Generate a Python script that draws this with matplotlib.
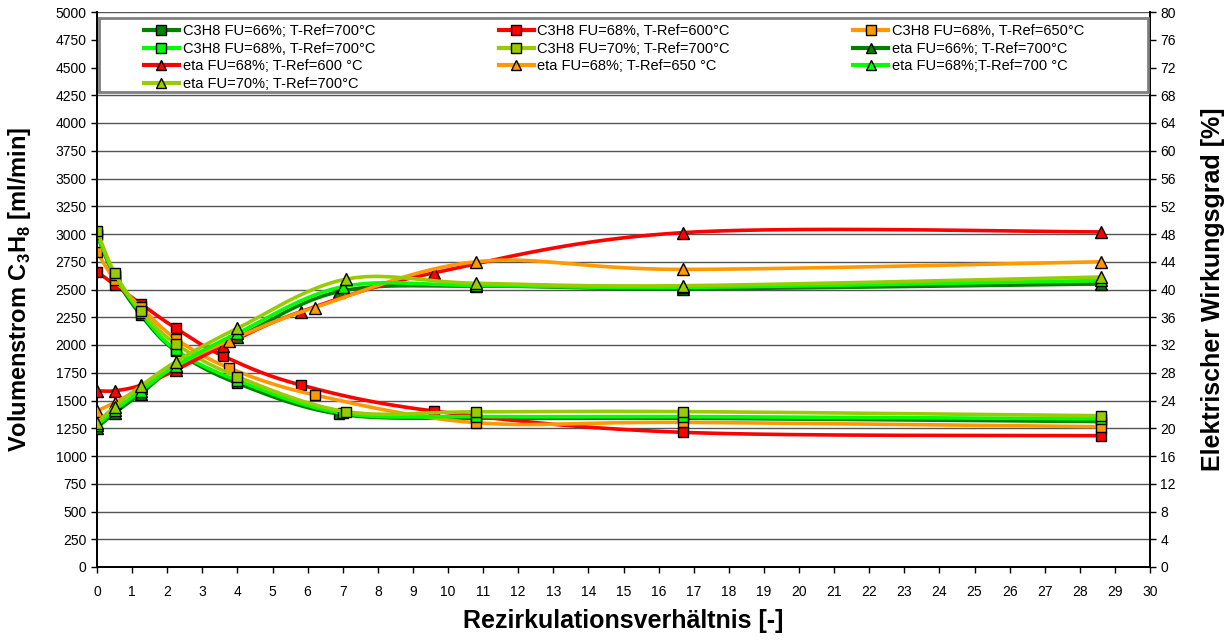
import numpy as np
import matplotlib
matplotlib.use('Agg')
import matplotlib.pyplot as plt
from matplotlib.lines import Line2D
from matplotlib.patches import Rectangle

plt.rcParams['font.family'] = ['Liberation Sans', 'DejaVu Sans']
plt.rcParams['mathtext.fontset'] = 'custom'
plt.rcParams['mathtext.rm'] = 'Liberation Sans'
plt.rcParams['mathtext.bf'] = 'Liberation Sans:bold'

# Rezirkulationsverhaeltnis per Messreihe
x_66_700 = [0, 0.5, 1.25, 2.25, 4.0, 6.9, 10.8, 16.7, 28.6]
x_68_600 = [0, 0.5, 1.25, 2.25, 3.6, 5.8, 9.6, 16.7, 28.6]
x_68_650 = [0, 0.5, 1.25, 2.25, 3.75, 6.2, 10.8, 16.7, 28.6]
x_68_700 = [0, 0.5, 1.25, 2.25, 4.0, 7.0, 10.8, 16.7, 28.6]
x_70_700 = [0, 0.5, 1.25, 2.25, 4.0, 7.1, 10.8, 16.7, 28.6]

# Volumenstrom C3H8 [ml/min]
c3h8_66_700 = [2990, 2620, 2270, 1945, 1655, 1378, 1340, 1340, 1310]
c3h8_68_600 = [2660, 2545, 2370, 2150, 1900, 1640, 1405, 1213, 1183]
c3h8_68_650 = [2840, 2590, 2340, 2055, 1795, 1550, 1300, 1303, 1264]
c3h8_68_700 = [3000, 2635, 2290, 1955, 1680, 1385, 1355, 1355, 1335]
c3h8_70_700 = [3030, 2650, 2310, 2010, 1715, 1400, 1398, 1400, 1363]

# elektrischer Wirkungsgrad [%]
eta_66_700 = [20.1, 22.2, 25.0, 28.9, 33.1, 39.7, 40.5, 40.1, 40.8]
eta_68_600 = [25.4, 25.4, 26.2, 28.4, 31.9, 36.8, 42.4, 48.2, 48.3]
eta_68_650 = [22.5, 23.7, 25.8, 29.0, 32.6, 37.4, 44.0, 42.9, 44.0]
eta_68_700 = [20.4, 22.6, 25.4, 29.0, 33.7, 40.4, 40.6, 40.3, 41.3]
eta_70_700 = [20.8, 23.1, 26.1, 29.6, 34.4, 41.5, 40.9, 40.55, 41.8]

c_dark = '#008000'
c_red = '#FF0000'
c_orange = '#FF9900'
c_light = '#00FF00'
c_yellow = '#99CC00'

c3h8_series = [
    ('C3H8 FU=66%; T-Ref=700°C', x_66_700, c3h8_66_700, c_dark),
    ('C3H8 FU=68%, T-Ref=600°C', x_68_600, c3h8_68_600, c_red),
    ('C3H8 FU=68%, T-Ref=650°C', x_68_650, c3h8_68_650, c_orange),
    ('C3H8 FU=68%, T-Ref=700°C', x_68_700, c3h8_68_700, c_light),
    ('C3H8 FU=70%; T-Ref=700°C', x_70_700, c3h8_70_700, c_yellow),
]
eta_series = [
    ('eta FU=66%; T-Ref=700°C', x_66_700, eta_66_700, c_dark),
    ('eta FU=68%; T-Ref=600 °C', x_68_600, eta_68_600, c_red),
    ('eta FU=68%; T-Ref=650 °C', x_68_650, eta_68_650, c_orange),
    ('eta FU=68%;T-Ref=700 °C', x_68_700, eta_68_700, c_light),
    ('eta FU=70%; T-Ref=700°C', x_70_700, eta_70_700, c_yellow),
]


def smooth(x, y, n=40):
    # Bezier-Glaettung durch alle Punkte (Catmull-Rom)
    x = np.asarray(x, float)
    y = np.asarray(y, float)
    pts = np.column_stack([x, y])
    pts = np.vstack([pts[0], pts, pts[-1]])
    t = np.linspace(0, 1, n)[:, None]
    out = []
    for i in range(1, len(pts) - 2):
        p0, p1, p2, p3 = pts[i - 1], pts[i], pts[i + 1], pts[i + 2]
        c1 = p1 + (p2 - p0) / 6.0
        c2 = p2 - (p3 - p1) / 6.0
        seg = ((1 - t) ** 3) * p1 + 3 * ((1 - t) ** 2) * t * c1 + 3 * (1 - t) * t ** 2 * c2 + t ** 3 * p2
        out.append(seg if i == 1 else seg[1:])
    out = np.vstack(out)
    return out[:, 0], out[:, 1]


fig = plt.figure(figsize=(12.31, 6.4), dpi=100)
ax = fig.add_axes([97 / 1231, (640 - 567) / 640, (1150 - 97) / 1231, 555 / 640])
ax2 = ax.twinx()

lw = 2.6
handles = {}
for k, (label, xs, ys, col) in enumerate(c3h8_series):
    sx, sy = smooth(xs, ys)
    ax.plot(sx, sy, color=col, lw=lw, zorder=3 + k, solid_capstyle='round')
    ax.plot(xs, ys, ls='none', marker='s', ms=7.5, mfc=col, mec='black', mew=1.0, zorder=3 + k)
    handles[label] = Line2D([], [], color=col, lw=3, marker='s', ms=6.5, mfc=col, mec='black', mew=1.0)

for k, (label, xs, ys, col) in enumerate(eta_series):
    sx, sy = smooth(xs, ys)
    ax2.plot(sx, sy, color=col, lw=lw, zorder=3 + k, solid_capstyle='round')
    ax2.plot(xs, ys, ls='none', marker='^', ms=8, mfc=col, mec='black', mew=1.0, zorder=3 + k)
    handles[label] = Line2D([], [], color=col, lw=3, marker='^', ms=7, mfc=col, mec='black', mew=1.0)

ax.set_xlim(0, 30)
ax.set_ylim(0, 5000)
ax2.set_ylim(0, 80)
ax.set_xticks(np.arange(0, 31, 1))
ax.set_yticks(np.arange(0, 5001, 250))
ax2.set_yticks(np.arange(0, 81, 4))

ax.grid(axis='y', color='#555555', lw=1.0)
ax.set_axisbelow(True)

for a in (ax, ax2):
    a.spines['top'].set_visible(False)
    for s in ('left', 'right', 'bottom'):
        a.spines[s].set_linewidth(1.3)
        a.spines[s].set_color('black')
    a.tick_params(direction='out', length=4, width=1, labelsize=10, colors='black')
ax.tick_params(axis='x', pad=9)

ax.set_xlabel('Rezirkulationsverhältnis [-]', fontsize=18, fontweight='bold', labelpad=7)
ax.set_ylabel(r'Volumenstrom C$_\mathbf{3}$H$_\mathbf{8}$ [ml/min]', fontsize=17, fontweight='bold', labelpad=16)
ax2.set_ylabel('Elektrischer Wirkungsgrad [%]', fontsize=18, fontweight='bold', labelpad=18)

# Legende: zeilenweise wie im Original, daher Reihenfolge fuer Spaltenfuellung umsortieren
labels_rows = [s[0] for s in c3h8_series] + [s[0] for s in eta_series]
order = [0, 3, 6, 9, 1, 4, 7, 2, 5, 8]
labels = [labels_rows[i] for i in order]
frame = Rectangle((0.002, 0.856), 0.996, 0.133, transform=ax2.transAxes, fill=True,
                  facecolor='white', edgecolor='#808080', lw=2.0, zorder=20)
ax2.add_patch(frame)
leg = ax2.legend([handles[l] for l in labels], labels, ncol=3, loc='upper left',
                 bbox_to_anchor=(0.0446, 0.86, 0.893, 0.118), mode='expand', borderaxespad=0,
                 frameon=False, fontsize=10.5, handlelength=2.4, handletextpad=0.25,
                 labelspacing=0.24, borderpad=0.0)
leg.set_zorder(21)

fig.savefig('out.png', dpi=100)
